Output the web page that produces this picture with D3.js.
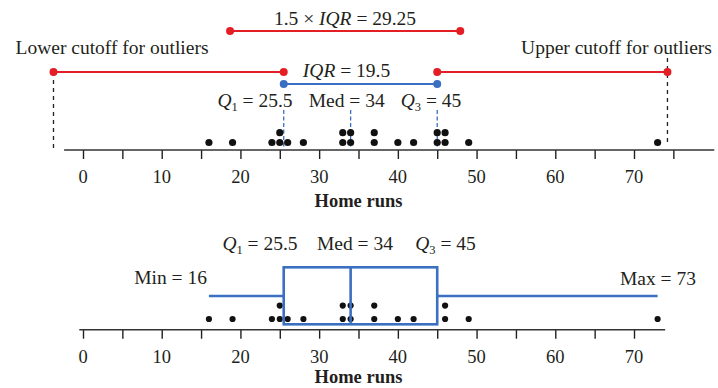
<!DOCTYPE html>
<html>
<head>
<meta charset="utf-8">
<script src="https://cdn.jsdelivr.net/npm/d3@7"></script>
<style>
  html, body { margin: 0; padding: 0; background: #fff; }
  svg { display: block; }
  text { font-family: "Liberation Serif", "Times New Roman", serif; fill: #231f20; }
</style>
</head>
<body>
<svg id="chart" width="718" height="388"></svg>
<script>
// ---- Data ----
const homeRuns = [16, 19, 24, 25, 25, 26, 28, 33, 33, 34, 34, 37, 37, 40, 42, 45, 45, 46, 46, 49, 73];
const boxPlotDots = [16, 19, 24, 25, 25, 26, 28, 33, 33, 34, 34, 37, 37, 40, 42, 46, 46, 49, 73];
const summaryNames = ["Min", "Q1", "Med", "Q3", "Max"];
const summaryValues = [16, 25.5, 34, 45, 73];
const iqrValue = 19.5;
const fenceFactor = 1.5;
const fenceSpan = 29.25;
const fenceBarStart = 18.68;
const topTicks = [0, 5, 10, 15, 20, 25, 30, 35, 40, 45, 50, 55, 60, 65, 70, 75];
const bottomTicks = [0, 5, 10, 15, 20, 25, 30, 35, 40, 45, 50, 55, 60, 65, 70];
const tickLabels = [0, 10, 20, 30, 40, 50, 60, 70];
const axisTitle = "Home runs";

const S = {};
summaryNames.forEach((n, i) => S[n] = summaryValues[i]);
const lowerFence = S.Q1 - fenceFactor * iqrValue;
const upperFence = S.Q3 + fenceFactor * iqrValue;

const RED = "#e31e24", BLUE = "#3b6fc1", INK = "#231f20";
const FS = 19.5;
const svg = d3.select("#chart");
const x = d3.scaleLinear().domain([0, 70]).range([83, 634]);

function stackRows(vals) {
  const cnt = {};
  return vals.map(v => { cnt[v] = (cnt[v] || 0); const r = cnt[v]; cnt[v]++; return { v, r }; });
}

function drawAxis(y, ticks, lineFrom, lineTo, titleDy) {
  const g = svg.append("g").attr("transform", `translate(0,${y})`);
  g.call(d3.axisBottom(x).tickValues(ticks).tickSize(9).tickFormat(""));
  g.select(".domain").remove();
  g.selectAll(".tick line").attr("stroke", INK).attr("stroke-width", 1.4);
  g.append("line").attr("x1", x(lineFrom)).attr("x2", x(lineTo))
    .attr("stroke", "#333").attr("stroke-width", 1.6);
  g.selectAll(".lab").data(tickLabels).enter().append("text")
    .attr("x", d => x(d)).attr("y", 33).attr("text-anchor", "middle")
    .attr("font-size", 18.5).text(d => d);
  g.append("text").attr("x", x(35)).attr("y", titleDy).attr("text-anchor", "middle")
    .attr("font-size", 18.5).attr("font-weight", "bold").text(axisTitle);
}

function qLabel(sel, sub, value, cx, y) {
  const t = sel.append("text").attr("x", cx).attr("y", y).attr("text-anchor", "middle").attr("font-size", FS);
  t.append("tspan").attr("font-style", "italic").text("Q");
  t.append("tspan").attr("font-size", 12.5).attr("dy", 4).text(sub);
  t.append("tspan").attr("dy", -4).text(" = " + value);
}
function plainLabel(txt, cx, y, anchor) {
  svg.append("text").attr("x", cx).attr("y", y).attr("text-anchor", anchor || "middle")
    .attr("font-size", FS).text(txt);
}
function segment(v1, v2, y, color, w, dots) {
  svg.append("line").attr("x1", x(v1)).attr("x2", x(v2)).attr("y1", y).attr("y2", y)
    .attr("stroke", color).attr("stroke-width", w);
  if (dots) svg.selectAll(null).data([v1, v2]).enter().append("circle")
    .attr("cx", d => x(d)).attr("cy", y).attr("r", 4).attr("fill", color);
}

// ===== Top panel: dotplot with outlier rule =====
const axisY1 = 150;
drawAxis(axisY1, topTicks, -2.4, 80.2, 57);

// blue dashed quartile lines
svg.selectAll(".qline").data([S.Q1, S.Med, S.Q3]).enter().append("line")
  .attr("x1", d => x(d)).attr("x2", d => x(d)).attr("y1", 110).attr("y2", axisY1)
  .attr("stroke", BLUE).attr("stroke-width", 1.3).attr("stroke-dasharray", "4,2.5");

// dots
svg.selectAll(".dtop").data(stackRows(homeRuns)).enter().append("circle")
  .attr("cx", d => x(d.v)).attr("cy", d => 142.5 - d.r * 9.8).attr("r", 3.6).attr("fill", "#111");

// cutoff dashed verticals
svg.append("line").attr("x1", x(lowerFence)).attr("x2", x(lowerFence)).attr("y1", 72).attr("y2", 152)
  .attr("stroke", INK).attr("stroke-width", 1.3).attr("stroke-dasharray", "4,4");
svg.append("line").attr("x1", x(upperFence)).attr("x2", x(upperFence)).attr("y1", 58).attr("y2", 146)
  .attr("stroke", INK).attr("stroke-width", 1.3).attr("stroke-dasharray", "4,4");

// bars
segment(fenceBarStart, fenceBarStart + fenceSpan, 31, RED, 1.8, true);
segment(lowerFence, S.Q1, 72, RED, 1.8, true);
segment(S.Q3, upperFence, 72, RED, 1.8, true);
segment(S.Q1, S.Q3, 84, BLUE, 1.8, true);

// labels
{
  const t = svg.append("text").attr("x", 345).attr("y", 25).attr("text-anchor", "middle").attr("font-size", FS);
  t.append("tspan").text(fenceFactor + " \u00d7 ");
  t.append("tspan").attr("font-style", "italic").text("IQR");
  t.append("tspan").text(" = " + fenceSpan);
  const t2 = svg.append("text").attr("x", 346.5).attr("y", 77).attr("text-anchor", "middle").attr("font-size", FS);
  t2.append("tspan").attr("font-style", "italic").text("IQR");
  t2.append("tspan").text(" = " + iqrValue);
}
plainLabel("Lower cutoff for outliers", 112, 54);
plainLabel("Upper cutoff for outliers", 616.5, 54);
qLabel(svg, "1", S.Q1, 255, 107);
plainLabel("Med = " + S.Med, 346.7, 107);
qLabel(svg, "3", S.Q3, 431, 107);

// ===== Bottom panel: boxplot =====
const axisY2 = 329.7;
drawAxis(axisY2, bottomTicks, -0.47, 73.96, 53);

const boxTop = 267.3, boxBot = 324.3, whiskY = 296;
svg.selectAll(".dbot").data(stackRows(boxPlotDots)).enter().append("circle")
  .attr("cx", d => x(d.v)).attr("cy", d => 319 - d.r * 13.4).attr("r", 3.1).attr("fill", "#111");

svg.append("rect").attr("x", x(S.Q1)).attr("y", boxTop).attr("width", x(S.Q3) - x(S.Q1))
  .attr("height", boxBot - boxTop).attr("fill", "none").attr("stroke", BLUE).attr("stroke-width", 2.6);
svg.append("line").attr("x1", x(S.Med)).attr("x2", x(S.Med)).attr("y1", boxTop).attr("y2", boxBot)
  .attr("stroke", BLUE).attr("stroke-width", 2.6);
svg.append("line").attr("x1", x(S.Min)).attr("x2", x(S.Q1)).attr("y1", whiskY).attr("y2", whiskY)
  .attr("stroke", BLUE).attr("stroke-width", 2.6);
svg.append("line").attr("x1", x(S.Q3)).attr("x2", x(S.Max)).attr("y1", whiskY).attr("y2", whiskY)
  .attr("stroke", BLUE).attr("stroke-width", 2.6);

qLabel(svg, "1", S.Q1, 260, 250);
plainLabel("Med = " + S.Med, 355, 250);
qLabel(svg, "3", S.Q3, 445.5, 250);
plainLabel("Min = " + S.Min, 207, 284, "end");
plainLabel("Max = " + S.Max, 696, 285, "end");
</script>
</body>
</html>
